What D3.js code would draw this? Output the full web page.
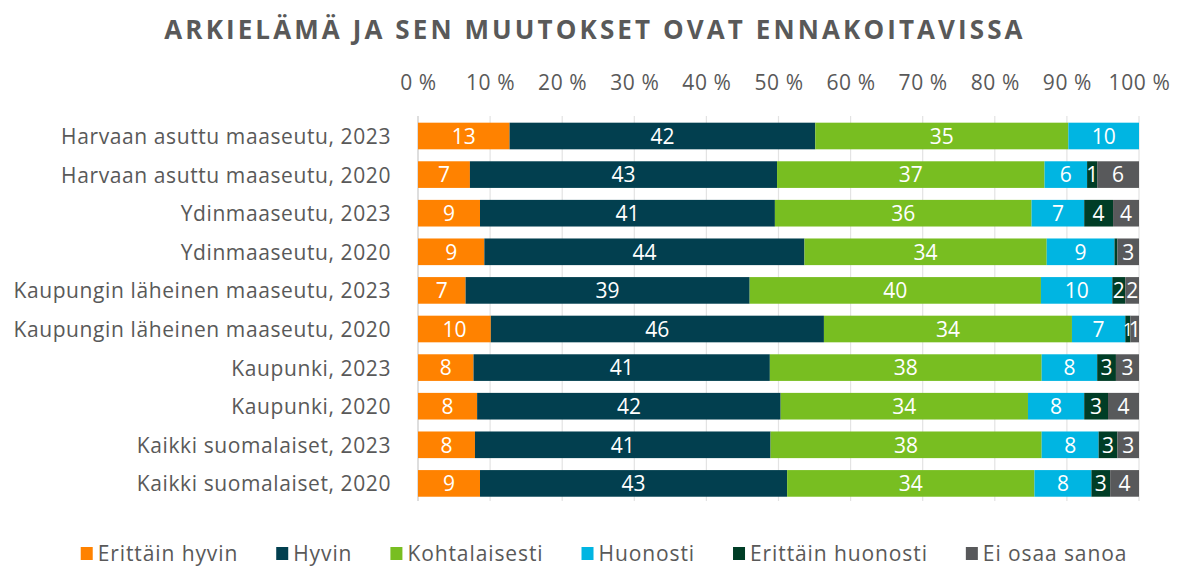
<!DOCTYPE html>
<html>
<head>
<meta charset="utf-8">
<script src="https://cdn.jsdelivr.net/npm/d3@7"></script>
<style>
body{margin:0;background:#fff;}
text{font-family:"Open Sans","Noto Sans",sans-serif;}
</style>
</head>
<body>
<script>
var w=1178,h=568;
var categories=["Harvaan asuttu maaseutu, 2023","Harvaan asuttu maaseutu, 2020","Ydinmaaseutu, 2023","Ydinmaaseutu, 2020",
  "Kaupungin läheinen maaseutu, 2023","Kaupungin läheinen maaseutu, 2020","Kaupunki, 2023","Kaupunki, 2020",
  "Kaikki suomalaiset, 2023","Kaikki suomalaiset, 2020"];
var seriesNames=["Erittäin hyvin","Hyvin","Kohtalaisesti","Huonosti","Erittäin huonosti","Ei osaa sanoa"];
var colors=["#ff8200","#023f4f","#78be21","#00b5e2","#003d26","#58595b"];
// one array per series, same order as categories
var erittainHyvin=[12.7,7.2,8.6,9.2,6.6,10.1,7.7,8.2,7.9,8.6];
var hyvin=[42.4,42.6,40.9,44.4,39.4,46.2,41.1,42.1,41.0,42.6];
var kohtalaisesti=[35.1,37.1,35.6,33.6,40.4,34.4,37.7,34.3,37.6,34.3];
var huonosti=[9.8,5.9,7.3,9.4,9.9,7.4,7.7,7.8,7.9,7.9];
var erittainHuonosti=[0,1.4,4.0,0.4,1.8,0.7,2.6,3.3,2.6,2.6];
var eiOsaa=[0,5.8,3.6,3.0,1.9,1.2,3.2,4.3,3.0,4.0];
var tickValues=[0,10,20,30,40,50,60,70,80,90,100];

var seriesData=[erittainHyvin,hyvin,kohtalaisesti,huonosti,erittainHuonosti,eiOsaa];
var rows=categories.map(function(c,i){
  var r={cat:c};
  seriesNames.forEach(function(s,j){r[s]=seriesData[j][i];});
  return r;
});
var stacked=d3.stack().keys(seriesNames)(rows);

var svg=d3.select('body').append('svg').attr('width',w).attr('height',h);

var x=d3.scaleLinear().domain([0,100]).range([418,1139]);
var y=d3.scaleBand().domain(categories).range([116.7,502.7]).paddingInner(0.31).paddingOuter(0.155);

// title
svg.append('text').attr('x',595).attr('y',39).attr('text-anchor','middle')
  .style('font-size','26px').style('font-weight','bold').style('letter-spacing','3.1px')
  .style('fill','#595959').text('ARKIELÄMÄ JA SEN MUUTOKSET OVAT ENNAKOITAVISSA');

// gridlines
svg.append('g').selectAll('line').data(tickValues).enter().append('line')
  .attr('x1',function(d){return x(d);}).attr('x2',function(d){return x(d);})
  .attr('y1',116).attr('y2',501)
  .attr('stroke',function(d){return d==0?'#c8c8c8':'#e3e3e3';}).attr('stroke-width',1.2);

// top axis labels
var xAxis=d3.axisTop(x).tickValues(tickValues).tickSize(0).tickPadding(0)
  .tickFormat(function(d){return d+' %';});
var ax=svg.append('g').attr('transform','translate(0,89.5)').call(xAxis);
ax.select('.domain').remove();
ax.selectAll('text').attr('dy',0).style('font-size','21px').style('letter-spacing','0.6px')
  .style('fill','#595959').style('font-family','"Open Sans",sans-serif');

// category labels
var yAxis=d3.axisLeft(y).tickSize(0).tickPadding(0);
var ay=svg.append('g').attr('transform','translate(391,0)').call(yAxis);
ay.select('.domain').remove();
ay.selectAll('text').attr('dy','0.38em').style('font-size','21px').style('letter-spacing','0.6px')
  .style('fill','#595959').style('font-family','"Open Sans",sans-serif');

// bars
var layers=svg.append('g').selectAll('g').data(stacked).enter().append('g')
  .attr('fill',function(d,i){return colors[i];});
layers.selectAll('rect').data(function(d){return d;}).enter().append('rect')
  .attr('x',function(d){return x(d[0]);})
  .attr('y',function(d){return y(d.data.cat);})
  .attr('width',function(d){return x(d[1])-x(d[0]);})
  .attr('height',y.bandwidth());

layers.selectAll('text').data(function(d){return d;}).enter()
  .filter(function(d){return Math.round(d[1]-d[0])>=1;})
  .append('text')
  .attr('x',function(d){return (x(d[0])+x(d[1]))/2;})
  .attr('y',function(d){return y(d.data.cat)+y.bandwidth()/2;})
  .attr('dy','0.37em').attr('text-anchor','middle')
  .style('font-size',function(d){return (x(d[1])-x(d[0]))<7?'18px':'21px';})
  .style('fill','#fff')
  .text(function(d){return Math.round(d[1]-d[0]);});

// legend
var lg=svg.append('g');
var items=lg.selectAll('g').data(seriesNames).enter().append('g');
items.append('rect').attr('width',12).attr('height',13).attr('y',-14)
  .attr('fill',function(d,i){return colors[i];});
items.append('text').attr('x',17).text(function(d){return d;})
  .style('font-size','21px').style('letter-spacing','0.9px').style('fill','#595959');
var pos=0;
items.each(function(){
  var bw=this.getBBox().width;
  d3.select(this).attr('transform','translate('+pos+',0)');
  pos+=bw+38;
});
var total=pos-38;
lg.attr('transform','translate('+(604-total/2)+',561)');
</script>
</body>
</html>
